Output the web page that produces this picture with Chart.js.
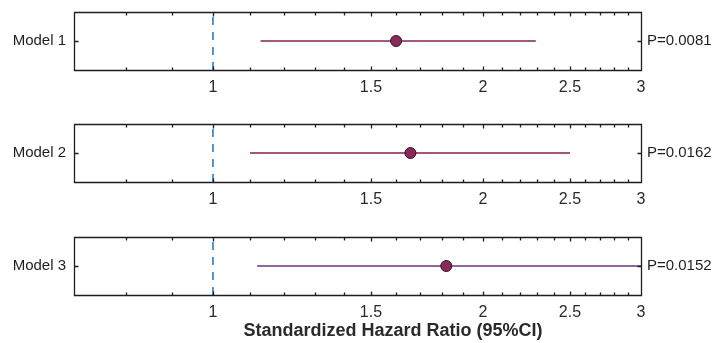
<!DOCTYPE html>
<html>
<head>
<meta charset="utf-8">
<script src="https://cdn.jsdelivr.net/npm/chart.js@4/dist/chart.umd.min.js"></script>
<style>
  html, body { margin: 0; padding: 0; background: #fff; }
  #wrap { position: relative; width: 726px; height: 343px; overflow: hidden; }
  .panel { position: absolute; left: 0; width: 726px; }
</style>
</head>
<body>
<div id="wrap">
  <div class="panel" style="top:0px;height:112px"><canvas id="c0" width="726" height="112"></canvas></div>
  <div class="panel" style="top:112px;height:112px"><canvas id="c1" width="726" height="112"></canvas></div>
  <div class="panel" style="top:225px;height:118px"><canvas id="c2" width="726" height="118"></canvas></div>
</div>
<script>
// ---- data ----
const models = ['Model 1', 'Model 2', 'Model 3'];
const hazardRatio = [1.60, 1.66, 1.82];
const lowerCI = [1.13, 1.10, 1.12];
const upperCI = [2.29, 2.50, 3.10];
const pValues = ['P=0.0081', 'P=0.0162', 'P=0.0152'];
const xTicks = [1, 1.5, 2, 2.5, 3];
const xMinorTicks = [0.8, 0.9, 1.1, 1.2, 1.3, 1.4, 1.6, 1.7, 1.8, 1.9, 2.1, 2.2, 2.3, 2.4, 2.6, 2.7, 2.8, 2.9];
const refLine = 1;
const xTitle = 'Standardized Hazard Ratio (95%CI)';

const FONT = '"Liberation Sans", Arial, Helvetica, sans-serif';
const lineColors = ['#a0587c', '#a5547c', '#8e6a9c'];

const frame = {
  id: 'frame',
  afterDatasetsDraw(chart) {
    const { ctx, chartArea: a, scales } = chart;
    const x = scales.x;
    ctx.save();
    ctx.strokeStyle = '#1e1e1e';
    ctx.lineWidth = 1.3;
    ctx.beginPath();
    const L = Math.round(a.left) + 0.5, R = Math.round(a.right) + 0.5;
    const T = Math.round(a.top) + 0.5, B = Math.round(a.bottom) + 0.5;
    ctx.rect(L, T, R - L, B - T);
    const tick = (v, len) => {
      const px = Math.round(x.getPixelForValue(v)) + 0.5;
      ctx.moveTo(px, B); ctx.lineTo(px, B - len);
      ctx.moveTo(px, T); ctx.lineTo(px, T + len);
    };
    xTicks.forEach(v => tick(v, 4));
    xMinorTicks.forEach(v => tick(v, 3));
    const py = Math.round(scales.y.getPixelForValue(0)) + 0.5;
    ctx.moveTo(L, py); ctx.lineTo(L + 4, py);
    ctx.moveTo(R, py); ctx.lineTo(R - 4, py);
    ctx.stroke();
    ctx.restore();
  }
};

const titlePlugin = {
  id: 'xtitle',
  afterDraw(chart) {
    if (!chart.options.plugins.xtitle || !chart.options.plugins.xtitle.show) return;
    const ctx = chart.ctx;
    ctx.save();
    ctx.font = 'bold 18px ' + FONT;
    ctx.fillStyle = '#2a2a2a';
    ctx.textAlign = 'center';
    ctx.textBaseline = 'middle';
    ctx.fillText(xTitle, 393, 106);
    ctx.restore();
  }
};

function makeChart(i, axisHeight, showTitle) {
  new Chart(document.getElementById('c' + i), {
    type: 'line',
    data: {
      datasets: [
        {
          type: 'scatter',
          data: [{ x: hazardRatio[i], y: 0 }],
          pointRadius: 5.5,
          pointBackgroundColor: '#8a2a5a',
          pointBorderColor: '#3c0c24',
          pointBorderWidth: 1,
          showLine: false
        },
        {
          data: [{ x: lowerCI[i], y: 0 }, { x: upperCI[i], y: 0 }],
          borderColor: lineColors[i],
          borderWidth: 2,
          pointRadius: 0
        },
        {
          data: [{ x: refLine, y: -1 }, { x: refLine, y: 1 }],
          borderColor: '#2e7cbf',
          borderWidth: 1.6,
          borderDash: [8, 7],
          pointRadius: 0
        }
      ]
    },
    options: {
      responsive: false,
      animation: false,
      layout: { padding: { top: 12, left: 0, right: 0, bottom: 0 } },
      plugins: { legend: { display: false }, tooltip: { enabled: false }, xtitle: { show: showTitle } },
      scales: {
        x: {
          type: 'logarithmic',
          min: 0.7,
          max: 3,
          grid: { display: false, drawTicks: false },
          border: { display: false },
          afterBuildTicks: s => { s.ticks = xTicks.map(v => ({ value: v })); },
          afterFit: s => { s.height = axisHeight; s.paddingLeft = 0; s.paddingRight = 0; },
          ticks: {
            padding: 8,
            autoSkip: false,
            maxRotation: 0,
            color: '#2a2a2a',
            font: { size: 16, family: FONT },
            callback: v => String(v)
          }
        },
        y: {
          type: 'linear',
          position: 'left',
          min: -1,
          max: 1,
          grid: { display: false, drawTicks: false },
          border: { display: false },
          afterBuildTicks: s => { s.ticks = [{ value: 0 }]; },
          afterFit: s => { s.width = 74; s.paddingTop = 0; s.paddingBottom = 0; },
          ticks: {
            padding: 8,
            color: '#1e1e1e',
            font: { size: 15, family: FONT },
            callback: () => models[i]
          }
        },
        y2: {
          type: 'linear',
          position: 'right',
          display: true,
          min: -1,
          max: 1,
          grid: { display: false, drawTicks: false },
          border: { display: false },
          afterBuildTicks: s => { s.ticks = [{ value: 0 }]; },
          afterFit: s => { s.width = 85; s.paddingTop = 0; s.paddingBottom = 0; },
          ticks: {
            padding: 6,
            color: '#1e1e1e',
            font: { size: 15, family: FONT },
            callback: () => pValues[i]
          }
        }
      }
    },
    plugins: [frame, titlePlugin]
  });
}

makeChart(0, 42, false);
makeChart(1, 42, false);
makeChart(2, 48, true);
</script>
</body>
</html>
